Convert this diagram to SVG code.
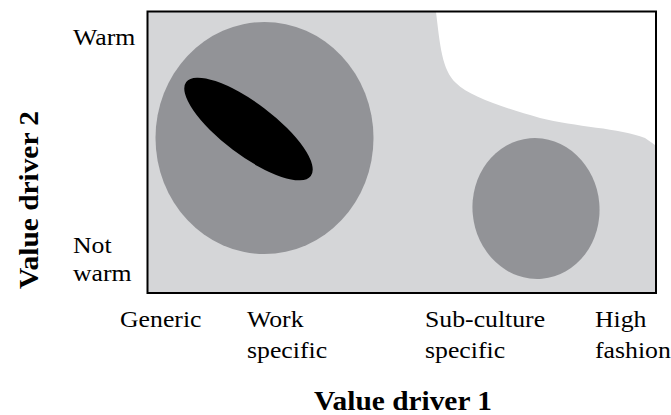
<svg xmlns="http://www.w3.org/2000/svg" width="671" height="415" viewBox="0 0 671 415">
<style>
.lbl{font-family:'Liberation Serif','Times New Roman',Times,'DejaVu Serif',serif;font-size:23px;font-weight:normal;fill:#000}
.ttl{font-family:'Liberation Serif','Times New Roman',Times,'DejaVu Serif',serif;font-size:28px;font-weight:bold;fill:#000}
.light{fill:#d5d6d8}
.mid{fill:#929397}
</style>
<rect width="671" height="415" fill="#fff"/>
<g id="plot">
<rect class="light" x="147.5" y="11.5" width="508.5" height="281.5"/>
<path id="white-region" d="M436,12 C440,45 442,70 456,83 C470,97 505,108 540,118 C575,127 620,128 645,138 L655,145 L655,12 Z" fill="#fff"/>
</g>
<g id="node-big"><ellipse class="mid" cx="264.5" cy="138" rx="109" ry="116"/></g>
<g id="node-black"><ellipse cx="248.5" cy="129" rx="78" ry="26" transform="rotate(37 248.5 129)" fill="#000"/></g>
<g id="node-small"><ellipse class="mid" cx="536" cy="208.5" rx="63.5" ry="70.5" transform="rotate(-5 536 208.5)"/></g>
<rect x="147.5" y="11.5" width="508.5" height="281.5" fill="none" stroke="#000" stroke-width="2"/>
<g id="connectors"></g>
<g id="labels">
<text class="lbl" transform="translate(73,45) scale(1.12,1)">Warm</text>
<text class="lbl" transform="translate(73,253) scale(1.12,1)"><tspan x="0" y="0">Not</tspan><tspan x="0" y="28">warm</tspan></text>
<text class="lbl" transform="translate(120,327) scale(1.12,1)">Generic</text>
<text class="lbl" transform="translate(247,327) scale(1.12,1)"><tspan x="0" y="0">Work</tspan><tspan x="0" y="31">specific</tspan></text>
<text class="lbl" transform="translate(425,327) scale(1.12,1)"><tspan x="0" y="0">Sub-culture</tspan><tspan x="0" y="31">specific</tspan></text>
<text class="lbl" transform="translate(595,327) scale(1.12,1)"><tspan x="0" y="0">High</tspan><tspan x="0" y="31">fashion</tspan></text>
<text class="ttl" text-anchor="middle" transform="translate(403,410) scale(1.05,1)">Value driver 1</text>
<text class="ttl" text-anchor="middle" transform="translate(38,200) rotate(-90) scale(1.05,1)">Value driver 2</text>
</g>
</svg>
